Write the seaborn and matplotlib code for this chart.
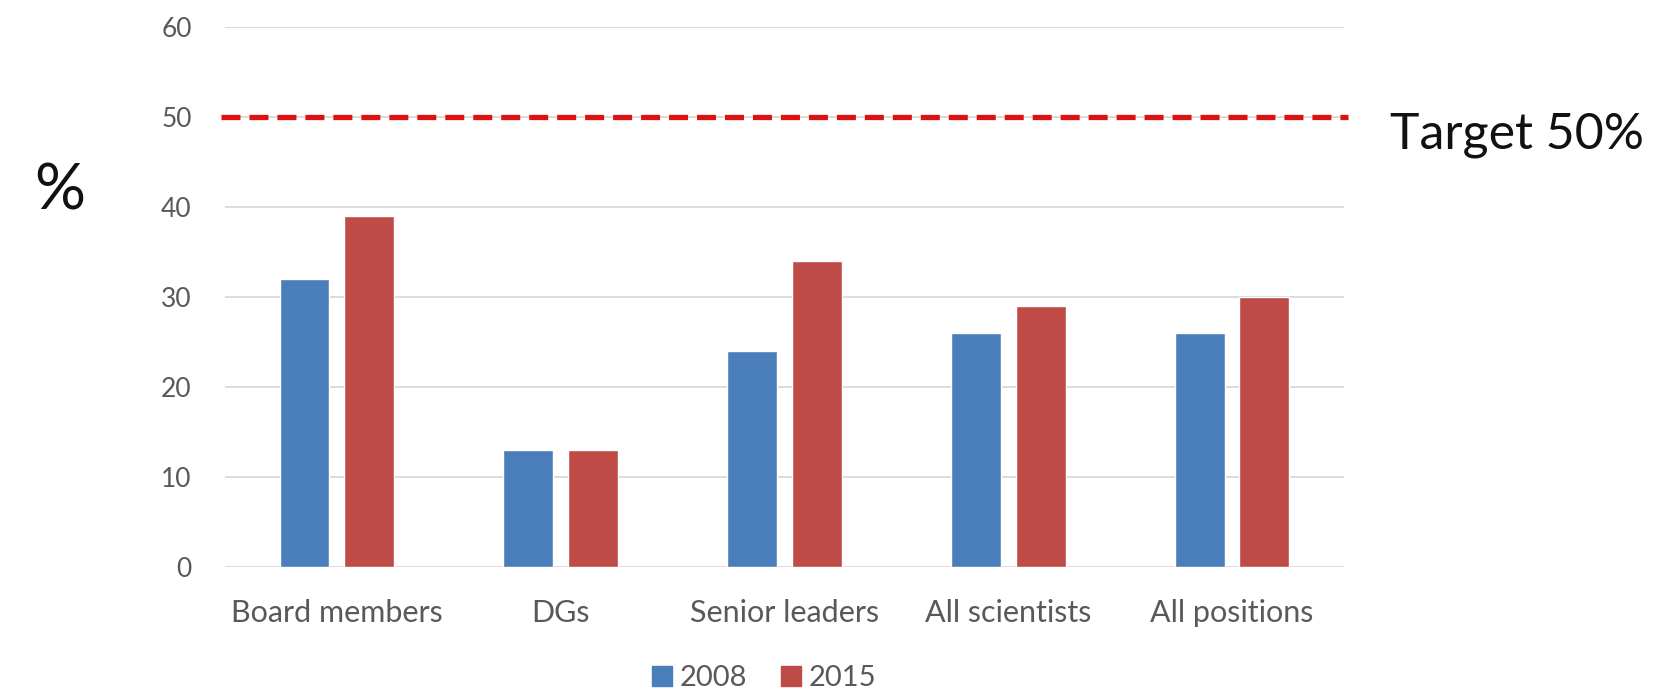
import matplotlib
matplotlib.use('Agg')
import matplotlib.pyplot as plt
import seaborn as sns
import pandas as pd

categories = ['Board members', 'DGs', 'Senior leaders', 'All scientists', 'All positions']
years = ['2008', '2015']
values_2008 = [32, 13, 24, 26, 26]
values_2015 = [39, 13, 34, 29, 30]
target = 50
yticks = [0, 10, 20, 30, 40, 50, 60]

colors = {'2008': '#4A7EBB', '2015': '#BE4B48'}
gray = '#595959'

sns.set_style('white')
plt.rcParams['font.family'] = ['Lato', 'DejaVu Sans']

df = pd.DataFrame({
    'category': categories * 2,
    'year': ['2008'] * len(categories) + ['2015'] * len(categories),
    'value': values_2008 + values_2015,
})

fig = plt.figure(figsize=(16.55, 6.9), dpi=100)
ax = fig.add_axes([0.136, 0.178, 0.676, 0.783])

sns.barplot(data=df, x='category', y='value', hue='year', order=categories,
            hue_order=years, palette=colors, width=0.58, gap=0.23,
            saturation=1, ax=ax, legend=False)

ax.set_ylim(0, 60)
ax.set_xlim(-0.5, len(categories) - 0.5)
ax.set_yticks(yticks)
ax.yaxis.grid(True, color='#D9D9D9', linewidth=1.3)
ax.set_axisbelow(True)
sns.despine(ax=ax, left=True, bottom=True)
ax.tick_params(axis='y', length=0, pad=24, labelsize=19, labelcolor=gray)
ax.tick_params(axis='x', length=0, pad=23, labelsize=22, labelcolor=gray)
ax.set_xlabel('')
ax.set_ylabel('')

# target line
ax.axhline(target, xmin=-0.004, xmax=1.004, color='#DD1111', lw=3.8,
           linestyle=(0, (3.6, 1.7)), clip_on=False)
fig.text(0.84, 0.805, 'Target 50%', fontsize=36, color='#111111',
         ha='left', va='center')
fig.text(0.036, 0.722, '%', fontsize=46, color='#111111', ha='center', va='center')

# legend
handles = [plt.Line2D([], [], marker='s', linestyle='', markersize=14,
                      color=colors[y]) for y in years]
leg = ax.legend(handles, years, loc='center', bbox_to_anchor=(0.48, -0.205),
                ncol=2, frameon=False, fontsize=21, handletextpad=0.1,
                columnspacing=1.0, handlelength=1.0, borderpad=0.1)
for t in leg.get_texts():
    t.set_color(gray)

fig.savefig('out.png', dpi=100, facecolor='white')
